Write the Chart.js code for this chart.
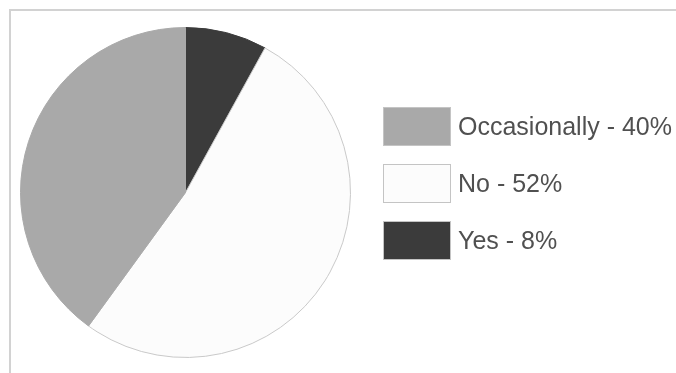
<!DOCTYPE html>
<html>
<head>
<meta charset="utf-8">
<script src="https://cdn.jsdelivr.net/npm/chart.js@4/dist/chart.umd.min.js"></script>
<style>
  html, body { margin: 0; padding: 0; background: #ffffff; }
  #wrap { position: relative; width: 676px; height: 373px; overflow: hidden; }
  #frame { position: absolute; left: 9px; top: 9px; right: -5px; bottom: -5px;
           border-top: 2px solid #d2d2d2; border-left: 2px solid #d2d2d2; }
  #myChart { position: absolute; left: 0; top: 0; }
  #legend { position: absolute; left: 383px; top: 107px; font-family: "Liberation Sans", Arial, sans-serif; }
  .item { position: relative; height: 38px; margin-bottom: 19px; }
  .box { position: absolute; left: 0; top: 0; width: 66px; height: 37px; border: 1px solid #c4c4c4; }
  .txt { position: absolute; left: 75px; top: 0; line-height: 38px; font-size: 25px; color: #505050; white-space: nowrap; }
</style>
</head>
<body>
<div id="wrap">
  <div id="frame"></div>
  <canvas id="myChart" width="676" height="373"></canvas>
  <div id="legend"></div>
</div>
<script>
// slice order clockwise from 12 o'clock
var categories = ['Yes', 'No', 'Occasionally'];
var values = [8, 52, 40];
var colors = ['#3b3b3b', '#fcfcfc', '#a9a9a9'];

// legend is listed bottom-up compared to the slices
var legendOrder = [2, 1, 0];

var ctx = document.getElementById('myChart');

var myChart = new Chart(ctx, {
  type: 'pie',
  data: {
    labels: categories,
    datasets: [{
      data: values,
      backgroundColor: colors,
      borderColor: ['#3b3b3b', '#c9c9c9', '#a9a9a9'],
      borderWidth: 1
    }]
  },
  options: {
    responsive: false,
    animation: false,
    layout: { padding: { left: 20, top: 27, right: 325, bottom: 15 } },
    plugins: {
      legend: { display: false },
      tooltip: { enabled: false }
    }
  }
});

// html legend built from the same arrays
var legend = document.getElementById('legend');
legendOrder.forEach(function(i){
  var item = document.createElement('div');
  item.className = 'item';
  var box = document.createElement('div');
  box.className = 'box';
  box.style.background = colors[i];
  var txt = document.createElement('div');
  txt.className = 'txt';
  txt.textContent = categories[i] + ' - ' + values[i] + '%';
  item.appendChild(box);
  item.appendChild(txt);
  legend.appendChild(item);
});
</script>
</body>
</html>
